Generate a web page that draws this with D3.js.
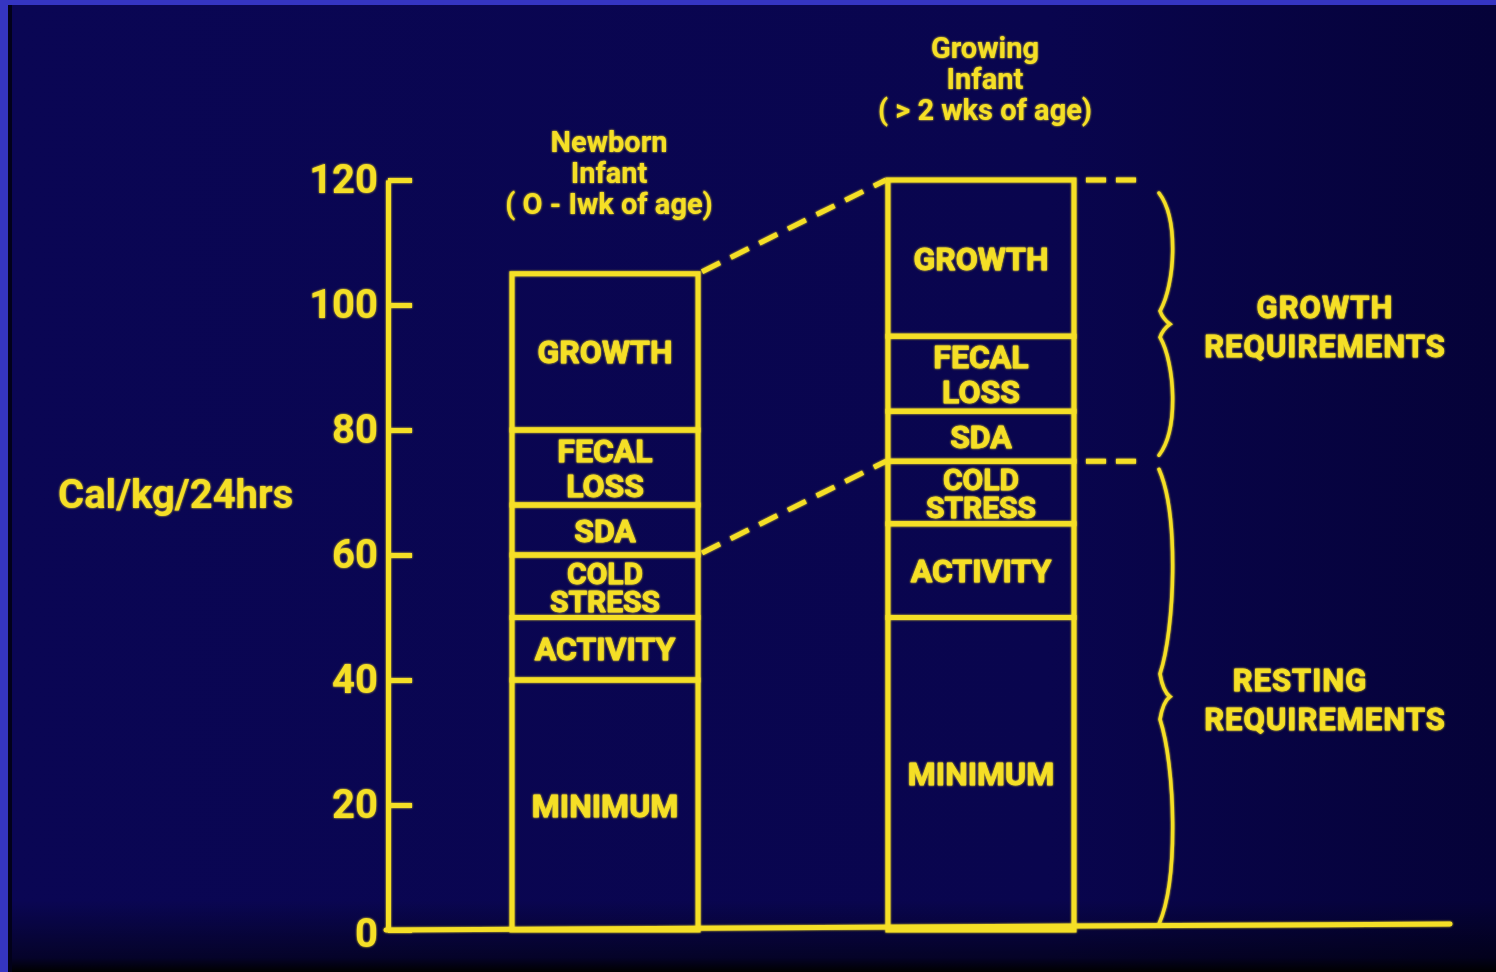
<!DOCTYPE html>
<html>
<head>
<meta charset="utf-8">
<script src="https://cdn.jsdelivr.net/npm/d3@7"></script>
<style>
  html, body { margin: 0; padding: 0; background: #000; }
  svg { display: block; }
  text { font-family: Roboto, "DejaVu Sans", sans-serif; font-weight: 700; fill: #f5df26; }
</style>
</head>
<body>
<svg id="chart" width="1496" height="972"></svg>
<script>
// stacked energy components, bottom to top
const segmentLines = [['MINIMUM'], ['ACTIVITY'], ['COLD', 'STRESS'], ['SDA'], ['FECAL', 'LOSS'], ['GROWTH']];
const groups = ['newborn', 'growing'];
const groupTitles = [
  ['Newborn', 'Infant', '( O - Iwk of age)'],
  ['Growing', 'Infant', '( > 2 wks of age)']
];
const newbornValues = [40, 10, 10, 8, 12, 25];
const growingValues = [50, 15, 10, 8, 12, 25];
const yTicks = [0, 20, 40, 60, 80, 100, 120];
const yLabel = 'Cal/kg/24hrs';
// connector dashes join the stacks after these segment indices
const connectAt = [3, 6];
const braceRanges = [[0, 75], [75, 120]];
const braceLabels = [['RESTING', 'REQUIREMENTS'], ['GROWTH', 'REQUIREMENTS']];

const yellow = '#f5df26';
const W = 1496, H = 972;
const svg = d3.select('#chart');

// ---- background
const defs = svg.append('defs');
const bg = defs.append('linearGradient').attr('id', 'bg').attr('x1', 0).attr('x2', 1).attr('y1', 0).attr('y2', 0);
bg.append('stop').attr('offset', 0).attr('stop-color', '#0a0654');
bg.append('stop').attr('offset', 0.7).attr('stop-color', '#09054e');
bg.append('stop').attr('offset', 1).attr('stop-color', '#050238');
const shade = defs.append('linearGradient').attr('id', 'shade').attr('x1', 0).attr('x2', 0).attr('y1', 0).attr('y2', 1);
shade.append('stop').attr('offset', 0).attr('stop-color', '#000').attr('stop-opacity', 0);
shade.append('stop').attr('offset', 0.8).attr('stop-color', '#000').attr('stop-opacity', 0.5);
shade.append('stop').attr('offset', 1).attr('stop-color', '#000').attr('stop-opacity', 1);
const glow = defs.append('filter').attr('id', 'glow').attr('x', '-5%').attr('y', '-5%').attr('width', '110%').attr('height', '110%');
glow.append('feGaussianBlur').attr('stdDeviation', 1.2).attr('result', 'b');
const merge = glow.append('feMerge');
merge.append('feMergeNode').attr('in', 'b');
merge.append('feMergeNode').attr('in', 'SourceGraphic');

svg.append('rect').attr('width', W).attr('height', H).attr('fill', 'url(#bg)');
svg.append('rect').attr('y', 900).attr('width', W).attr('height', H - 900).attr('fill', 'url(#shade)');
svg.append('rect').attr('width', W).attr('height', 5).attr('fill', '#3535c2');
svg.append('rect').attr('width', 8).attr('height', H).attr('fill', '#3535c2');
svg.append('rect').attr('x', 8).attr('y', 5).attr('width', 4).attr('height', H).attr('fill', '#02011a');

// ---- scales
const y = d3.scaleLinear().domain([0, 120]).range([930, 180]);
const x = d3.scaleBand().domain(groups).range([418, 1168]).paddingInner(0.505).paddingOuter(0.25);

const g = svg.append('g').attr('filter', 'url(#glow)');

// ---- axis
const axisG = g.append('g').attr('transform', `translate(388,0)`)
  .call(d3.axisLeft(y).tickValues(yTicks).tickSizeInner(-24).tickSizeOuter(0).tickPadding(10));
axisG.select('.domain').attr('stroke', yellow).attr('stroke-width', 5);
axisG.selectAll('.tick line').attr('stroke', yellow).attr('stroke-width', 5);
axisG.selectAll('.tick text')
  .attr('fill', yellow).attr('font-size', 40).attr('font-weight', 500)
  .attr('font-family', 'Roboto, sans-serif')
  .attr('dy', (d) => d === 0 ? '0.42em' : '0.32em');

// baseline
g.append('line')
  .attr('x1', 386).attr('x2', 1450)
  .attr('y1', y(0)).attr('y2', y(0) - 6)
  .attr('stroke', yellow).attr('stroke-width', 5).attr('stroke-linecap', 'round');

g.append('text').attr('x', 58).attr('y', 508).attr('font-size', 40).attr('font-weight', 500).text(yLabel);

// ---- stacks
const stackValues = [newbornValues, growingValues];
stackValues.forEach((vals, gi) => {
  const key = groups[gi];
  const x0 = x(key), bw = x.bandwidth();
  let cum = 0;
  const col = g.append('g');
  vals.forEach((v, si) => {
    const lo = cum, hi = cum + v;
    cum = hi;
    col.append('rect')
      .attr('x', x0).attr('y', y(hi))
      .attr('width', bw).attr('height', y(lo) - y(hi))
      .attr('fill', 'none').attr('stroke', yellow).attr('stroke-width', 5);
    const lines = segmentLines[si];
    const h = y(lo) - y(hi);
    const gap = Math.min(35, h - 35);
    const cy = (y(lo) + y(hi)) / 2;
    lines.forEach((t, li) => {
      col.append('text')
        .attr('x', x0 + bw / 2)
        .attr('y', cy + 11.5 + (li - (lines.length - 1) / 2) * gap)
        .attr('text-anchor', 'middle')
        .attr('font-size', lines.length > 1 && gap < 30 ? 30 : 32)
        .attr('stroke', yellow).attr('stroke-width', 0.8).attr('stroke-linejoin', 'round')
        .text(t);
    });
  });
  const total = d3.sum(vals);
  groupTitles[gi].forEach((t, li) => {
    g.append('text')
      .attr('x', x0 + bw / 2 + 4)
      .attr('y', y(total) - 60 - (2 - li) * 31)
      .attr('text-anchor', 'middle')
      .attr('font-size', 29)
      .text(t);
  });
});

// ---- dashed connectors between stacks
connectAt.forEach((idx) => {
  const a = d3.sum(newbornValues.slice(0, idx));
  const b = d3.sum(growingValues.slice(0, idx));
  g.append('line')
    .attr('x1', x('newborn') + x.bandwidth() + 4).attr('y1', y(a) - 2)
    .attr('x2', x('growing') - 2).attr('y2', y(b))
    .attr('stroke', yellow).attr('stroke-width', 5)
    .attr('stroke-dasharray', '20 12');
});

// ---- short dashes right of growing stack at brace edges
const xr = x('growing') + x.bandwidth();
[braceRanges[0][1], braceRanges[1][1]].forEach((v) => {
  g.append('line')
    .attr('x1', xr + 12).attr('x2', xr + 62)
    .attr('y1', y(v)).attr('y2', y(v))
    .attr('stroke', yellow).attr('stroke-width', 5)
    .attr('stroke-dasharray', '20 10');
});

// ---- braces
function bracePath(bx, top, bot) {
  const mid = (top + bot) / 2, half = (bot - top) / 2;
  return `M${bx},${top}` +
    `C${bx + 20},${top + half * 0.2} ${bx + 16},${top + half * 0.7} ${bx + 1},${mid - half * 0.1}` +
    `Q${bx + 4},${mid - 5} ${bx + 11},${mid}` +
    `Q${bx + 4},${mid + 5} ${bx + 1},${mid + half * 0.1}` +
    `C${bx + 16},${bot - half * 0.7} ${bx + 20},${bot - half * 0.2} ${bx},${bot}`;
}
braceRanges.forEach(([lo, hi], i) => {
  const top = y(hi) + (i === 1 ? 13 : 8);
  const bot = y(lo) - 6;
  g.append('path')
    .attr('d', bracePath(1159, top, bot))
    .attr('fill', 'none').attr('stroke', yellow).attr('stroke-width', 3.5)
    .attr('stroke-linecap', 'round');
  const mid = (top + bot) / 2;
  braceLabels[i].forEach((t, li) => {
    g.append('text')
      .attr('x', 1325 + (i === 0 && li === 0 ? -25 : 0))
      .attr('y', mid - 6 + li * 39)
      .attr('text-anchor', 'middle')
      .attr('font-size', 31)
      .attr('letter-spacing', 1)
      .attr('stroke', yellow).attr('stroke-width', 0.8).attr('stroke-linejoin', 'round')
      .text(t);
  });
});
</script>
</body>
</html>
